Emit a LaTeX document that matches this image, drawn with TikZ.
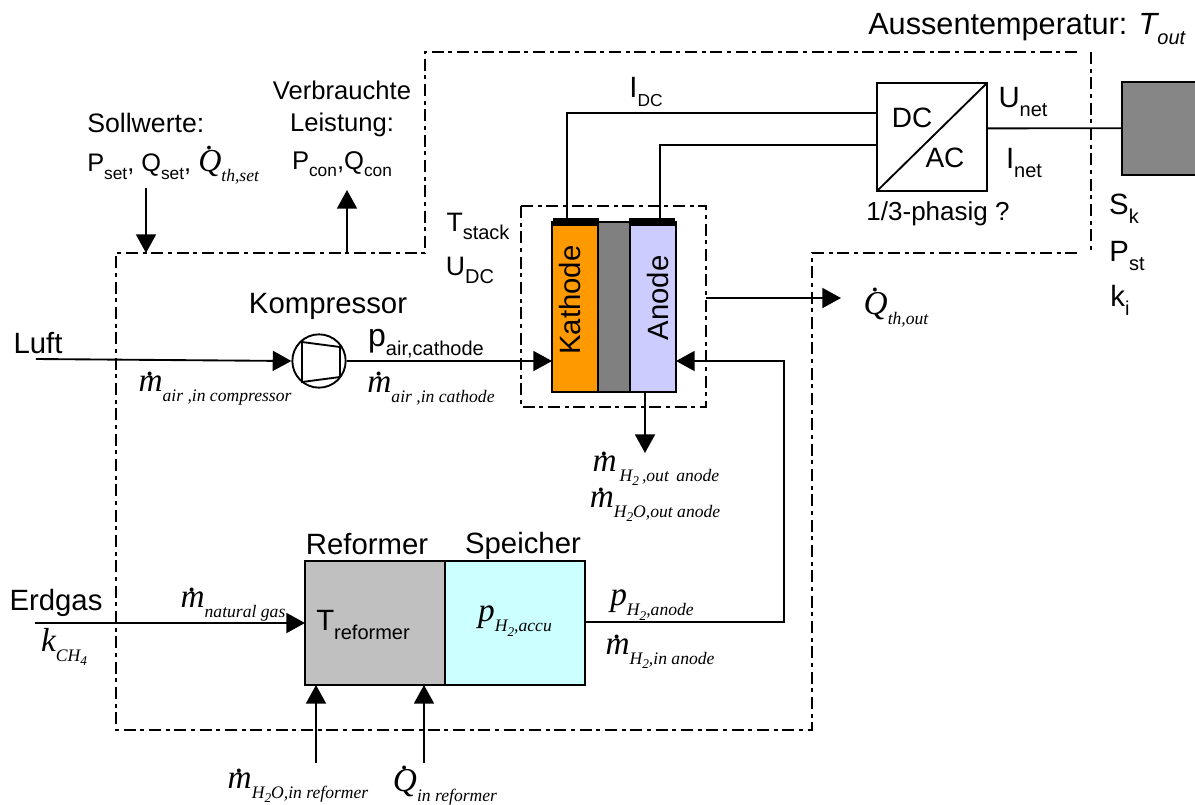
\documentclass[tikz,border=0pt]{standalone}
\usepackage{fontspec}
\setmainfont{Liberation Sans}
\newfontfamily\serifface{Liberation Serif}
\usetikzlibrary{arrows.meta,calc}
\newcommand{\low}[1]{\raisebox{-.3em}{\fontsize{15}{15}\selectfont #1}}
\newcommand{\lowsm}[1]{\raisebox{-.3em}{\fontsize{13}{13}\selectfont #1}}
\newcommand{\lowit}[1]{\raisebox{-.3em}{\fontsize{13.2}{13}\selectfont\itshape #1}}
\newcommand{\lowtwo}[1]{\raisebox{-.25em}{\fontsize{10}{10}\selectfont\itshape #1}}
\newcommand{\dotted}[1]{\leavevmode\vbox{\offinterlineskip\halign{\hfil##\hfil\cr\raisebox{-.62em}{.}\cr#1\cr}}}
\tikzset{
	txt/.style={inner sep=0pt, text=black, font=\fontsize{22}{26}\selectfont, align=center},
	formula/.style={inner sep=0pt, text=black, font=\fontsize{25}{26}\selectfont\serifface\itshape},
	block/.style={draw, line width=1.5pt, rectangle, inner sep=0pt, outer sep=0pt, anchor=north west},
	capbar/.style={fill=black, draw=none, rectangle, inner sep=0pt, minimum width=35pt, minimum height=6pt},
	wire/.style={line width=1.4pt},
	flow/.style={wire, -{Triangle[length=14pt,width=15pt]}},
	border/.style={line width=1.2pt, dash pattern=on 9pt off 3.5pt on 3pt off 3.5pt},
	x=0.75pt, y=-0.75pt
}
\begin{document}
\begin{tikzpicture}
	\useasboundingbox (0,0) rectangle (1195,804);
	% system border
	\coordinate (b1) at (1077,52);
	\coordinate (b2) at (425,52);
	\coordinate (b3) at (425,253);
	\coordinate (b4) at (116,253);
	\coordinate (b5) at (116,730);
	\coordinate (b6) at (812,730);
	\coordinate (b7) at (812,253);
	\coordinate (b8) at (1077,253);
	\coordinate (b9) at (1091,52);
	\coordinate (b10) at (1091,253);
	\draw[border] (b1) -- (b2) -- (b3) -- (b4) -- (b5) -- (b6) -- (b7) -- (b8);
	\draw[border] (b9) -- (b10);
	% stack
	\node[block, fill={rgb,255:red,255;green,153;blue,0}, minimum width=34.5pt, minimum height=127.5pt] (kathode) at (552,222) {};
	\node[block, fill=gray, minimum width=24pt, minimum height=127.5pt] (membran) at (598,222) {};
	\node[block, fill={rgb,255:red,204;green,204;blue,255}, minimum width=34.5pt, minimum height=127.5pt] (anode) at (630,222) {};
	\node[txt, rotate=90] (kathodetext) at (570,300) {Kathode};
	\node[txt, rotate=90] (anodetext) at (658,298) {Anode};
	\node[capbar] (capk) at (576,222) {};
	\node[capbar] (capa) at (652,222) {};
	\draw[line width=1.7pt, dash pattern=on 9pt off 3.5pt on 3pt off 3.5pt] (521,206) rectangle (706,407);
	% inverter and grid
	\node[block, minimum width=82.5pt, minimum height=81pt] (inv) at (877,83) {};
	\draw[wire] (inv.south west) -- (inv.north east);
	\node[txt, font=\fontsize{21}{24}\selectfont] (dc) at (912,118) {DC};
	\node[txt, font=\fontsize{21}{24}\selectfont] (ac) at (945,158) {AC};
	\node[block, fill=gray!95, minimum width=60pt, minimum height=70pt] (grid) at (1122,82) {};
	\coordinate (idc) at (567,113);
	\coordinate (iac) at (660,145);
	\draw[wire] (capk.north -| idc) -- (idc) -- (idc -| inv.west);
	\draw[wire] (capa.north -| iac) -- (iac) -- (iac -| inv.west);
	\draw[wire] ($(inv.north east)!0.42!(inv.south east)$) -- ($(grid.north west)!0.495!(grid.south west)$);
	% compressor
	\node[draw, circle, line width=1.4pt, minimum size=40pt, inner sep=0pt] (komp) at (319,361) {};
	\draw[wire] (302,342) -- (340,347) -- (340,377) -- (302,382) -- cycle;
	\coordinate (luftin) at (36,359);
	\draw[flow] (luftin) -- (komp.west);
	\draw[flow] (komp.east) -- (kathode.west |- komp.east);
	% reformer and storage
	\node[block, fill={rgb,255:red,192;green,192;blue,192}, minimum width=105pt, minimum height=93pt] (reformer) at (305,561) {};
	\node[block, fill={rgb,255:red,204;green,255;blue,255}, minimum width=105pt, minimum height=93pt] (speicher) at (445,561) {};
	\coordinate (gasin) at (35,623);
	\draw[flow] (gasin) -- (reformer.west |- gasin);
	\coordinate (h2o) at (316,763);
	\coordinate (qin) at (424,763);
	\draw[flow] (h2o) -- (h2o |- reformer.south);
	\draw[flow] (qin) -- (qin |- reformer.south);
	\coordinate (h2a) at (784,622);
	\coordinate (h2b) at (784,361);
	\draw[flow] (speicher.east |- h2a) -- (h2a) -- (h2b) -- (h2b -| anode.east);
	% signals across the border
	\coordinate (sollin) at (146,188);
	\coordinate (sollout) at (146,253);
	\coordinate (verbin) at (347,253);
	\coordinate (verbout) at (347,190);
	\draw[flow] (sollin) -- (sollout);
	\draw[flow] (verbin) -- (verbout);
	\coordinate (qstart) at (706,298);
	\coordinate (qend) at (841,298);
	\draw[flow] (qstart) -- (qend);
	\coordinate (h2out) at (645,453);
	\draw[flow] (h2out |- anode.south) -- (h2out);
	% labels
	\node[txt, anchor=west, font=\fontsize{23}{26}\selectfont] (aussen) at (868,29) {Aussentemperatur: {\itshape T\raisebox{-.3em}{\fontsize{15}{15}\selectfont out}}};
	\node[txt, font=\fontsize{19.2}{22}\selectfont] (verb) at (342,109) {Verbrauchte\\[2pt]Leistung:};
	\node[txt, font=\fontsize{19.2}{22}\selectfont] (verbval) at (342,164) {P\lowsm{con},Q\lowsm{con}};
	\node[txt, anchor=west] (soll) at (87,123) {\fontsize{20}{24}\selectfont Sollwerte:};
	\node[txt, anchor=west] (sollval) at (87,157) {\fontsize{19}{24}\selectfont P\lowsm{set}, Q\lowsm{set}, {\fontsize{24}{24}\selectfont\serifface\itshape\dotted{Q}\lowit{th,set}}};
	\node[txt] (idctext) at (646,92) {I\lowsm{DC}};
	\node[txt] (tstack) at (478,226) {\fontsize{20}{24}\selectfont T\low{stack}};
	\node[txt] (udc) at (470,270) {\fontsize{20}{24}\selectfont U\low{DC}};
	\node[txt] (unet) at (1023,102) {U\low{net}};
	\node[txt] (inet) at (1024,163) {I\low{net}};
	\node[txt, font=\fontsize{19.5}{22}\selectfont] (phasig) at (938,214) {1/3-phasig ?};
	\node[txt] (sk) at (1124,209) {S\low{k}};
	\node[txt] (pst) at (1127,256) {P\low{st}};
	\node[txt] (ki) at (1120,300) {k\low{i}};
	\node[formula] (qout) at (896,299) {\dotted{Q}\lowit{th,out}};
	\node[txt] (kompt) at (328,306) {Kompressor};
	\node[txt] (luft) at (38,343) {Luft};
	\node[txt] (pair) at (426,344) {{\fontsize{24}{26}\selectfont p}\low{air,cathode}};
	\node[formula] (mkomp) at (215,380) {\dotted{m}\lowit{air ,in compressor}};
	\node[formula] (mkath) at (431,380) {\dotted{m}\lowit{air ,in cathode}};
	\node[formula] (mhout) at (656,460) {\dotted{m}\lowit{\,H\lowtwo{2}\,,out\, anode}};
	\node[formula] (mhoout) at (655,496) {\dotted{m}\lowit{H\lowtwo{2}O,out anode}};
	\node[txt] (reft) at (367,544) {Reformer};
	\node[txt] (spt) at (523,546) {Speicher};
	\node[txt] (tref) at (363,625) {T\low{reformer}};
	\node[formula] (paccu) at (515,621) {p\lowit{H\lowtwo{2},accu}};
	\node[txt] (erd) at (56,603) {Erdgas};
	\node[formula] (kch) at (64,647) {k\lowit{CH\lowtwo{4}}};
	\node[formula] (mgas) at (233,596) {\dotted{m}\lowit{natural gas}};
	\node[formula] (panode) at (652,605) {p\lowit{H\lowtwo{2},anode}};
	\node[formula] (manode) at (660,643) {\dotted{m}\lowit{H\lowtwo{2},in anode}};
	\node[formula] (mref) at (298,777) {\dotted{m}\lowit{H\lowtwo{2}O,in reformer}};
	\node[formula] (qref) at (445,777) {\dotted{Q}\lowit{in reformer}};
\end{tikzpicture}
\end{document}
